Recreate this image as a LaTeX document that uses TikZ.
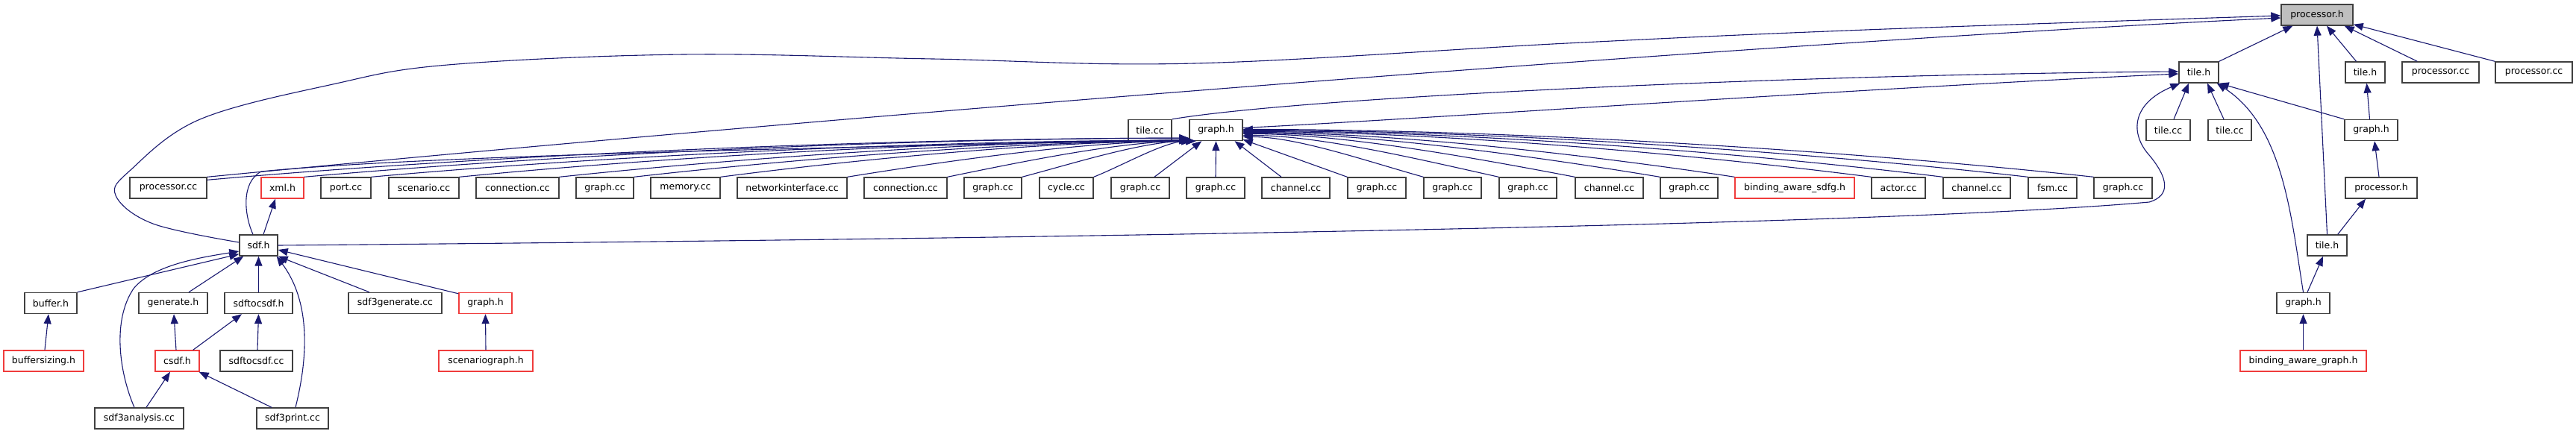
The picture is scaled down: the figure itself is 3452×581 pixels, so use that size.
\documentclass[tikz,border=0pt]{standalone}
\usepackage{fontspec}
\setmainfont{DejaVu Sans}
\usetikzlibrary{arrows.meta,calc}
\definecolor{edgecol}{HTML}{191970}
\definecolor{boxcol}{HTML}{404040}
\definecolor{redcol}{HTML}{F03C3C}
\definecolor{mainfill}{HTML}{BFBFBF}
\tikzset{
 box/.style={draw=boxcol, line width=1.4pt, fill=white, minimum height=28pt, inner sep=0pt, font=\fontsize{12.5}{15}\selectfont, text=black},
 redbox/.style={box, draw=redcol},
 mainbox/.style={box, fill=mainfill},
 edge/.style={draw=edgecol, line width=1.1pt, -{Triangle[length=13pt,width=10pt]}},
}
\newcommand\fanedge[3]{\draw[edge] (#1) .. controls ($(#1)!0.3!(#2)+(0,-#3)$) and ($(#2)!0.3!(#1 |- #2)$) .. (#2);}
\begin{document}
\begin{tikzpicture}[x=1pt,y=-1pt]
\useasboundingbox (0,0) rectangle (3452,581);
% row 0
\node[mainbox, minimum width=96pt] (ph0) at (3105,20) {processor.h};
% row 1
\node[box, minimum width=53pt] (th1a) at (2946.5,97) {tile.h};
\node[box, minimum width=53pt] (th1b) at (3169.5,97) {tile.h};
\node[box, minimum width=103pt] (pcc1a) at (3270.5,97) {processor.cc};
\node[box, minimum width=103pt] (pcc1b) at (3395.5,97) {processor.cc};
% row 2
\node[box, minimum width=58pt] (tcc2a) at (1541,174.5) {tile.cc};
\node[box, minimum width=71pt] (gh2a) at (1629.5,174.5) {graph.h};
\node[box, minimum width=59pt] (tcc2b) at (2905.5,174.5) {tile.cc};
\node[box, minimum width=58pt] (tcc2c) at (2988,174.5) {tile.cc};
\node[box, minimum width=71pt] (gh2b) at (3177.5,174.5) {graph.h};
% row 3
\node[box, minimum width=103pt] (b1) at (225.5,252) {processor.cc};
\node[redbox, minimum width=57pt] (b2) at (378.5,252) {xml.h};
\node[box, minimum width=67pt] (b3) at (463.5,252) {port.cc};
\node[box, minimum width=94pt] (b4) at (568,252) {scenario.cc};
\node[box, minimum width=111pt] (b5) at (693.5,252) {connection.cc};
\node[box, minimum width=77pt] (b6) at (810.5,252) {graph.cc};
\node[box, minimum width=93pt] (b7) at (918.5,252) {memory.cc};
\node[box, minimum width=147pt] (b8) at (1061.5,252) {networkinterface.cc};
\node[box, minimum width=111pt] (b9) at (1213.5,252) {connection.cc};
\node[box, minimum width=77pt] (b10) at (1330.5,252) {graph.cc};
\node[box, minimum width=72pt] (b11) at (1429,252) {cycle.cc};
\node[box, minimum width=78pt] (b12) at (1528,252) {graph.cc};
\node[box, minimum width=78pt] (b13) at (1629,252) {graph.cc};
\node[box, minimum width=91pt] (b14) at (1736.5,252) {channel.cc};
\node[box, minimum width=78pt] (b15) at (1845,252) {graph.cc};
\node[box, minimum width=77pt] (b16) at (1946.5,252) {graph.cc};
\node[box, minimum width=77pt] (b17) at (2047.5,252) {graph.cc};
\node[box, minimum width=91pt] (b18) at (2156.5,252) {channel.cc};
\node[box, minimum width=77pt] (b19) at (2263.5,252) {graph.cc};
\node[redbox, minimum width=160pt] (b20) at (2405,252) {binding\_aware\_sdfg.h};
\node[box, minimum width=72pt] (b21) at (2544,252) {actor.cc};
\node[box, minimum width=90pt] (b22) at (2649,252) {channel.cc};
\node[box, minimum width=65pt] (b23) at (2750.5,252) {fsm.cc};
\node[box, minimum width=78pt] (b24) at (2845,252) {graph.cc};
\node[box, minimum width=96pt] (ph3) at (3191,252) {processor.h};
% row 4
\node[box, minimum width=51pt] (sdfh) at (346.5,329) {sdf.h};
\node[box, minimum width=53pt] (th4) at (3118.5,329) {tile.h};
% row 5
\node[box, minimum width=70pt] (bufh) at (68,406.5) {buffer.h};
\node[box, minimum width=92pt] (genh) at (232,406.5) {generate.h};
\node[box, minimum width=91pt] (s2ch) at (346.5,406.5) {sdftocsdf.h};
\node[box, minimum width=125pt] (s3gen) at (529.5,406.5) {sdf3generate.cc};
\node[redbox, minimum width=71pt] (ghred) at (650.5,406.5) {graph.h};
\node[box, minimum width=71pt] (gh5) at (3086.5,406.5) {graph.h};
% row 6
\node[redbox, minimum width=107pt] (bsz) at (58.5,484) {buffersizing.h};
\node[redbox, minimum width=59pt] (csdf) at (237.5,484) {csdf.h};
\node[box, minimum width=97pt] (s2ccc) at (343.5,484) {sdftocsdf.cc};
\node[redbox, minimum width=126pt] (scg) at (651,484) {scenariograph.h};
\node[redbox, minimum width=169pt] (bag) at (3086.5,484) {binding\_aware\_graph.h};
% row 7
\node[box, minimum width=119pt] (s3an) at (186.5,561) {sdf3analysis.cc};
\node[box, minimum width=96pt] (s3pr) at (392,561) {sdf3print.cc};

% named attach points
\coordinate (ph0L1) at ($(ph0.west)+(0,1)$);
\coordinate (ph0L2) at ($(ph0.west)+(0,4)$);
\coordinate (sdfL) at ($(sdfh.west)+(0,-4)$);
\coordinate (b1s) at ($(b1.north east)+(0,4)$);
\coordinate (th1aL1) at ($(th1a.west)+(0,-1)$);
\coordinate (th1aL2) at ($(th1a.west)+(0,2)$);
\coordinate (gh2aR) at ($(gh2a.east)+(0,-3)$);
\coordinate (eA) at ($(gh2a.south west)+(0,-4)$);
\coordinate (eB) at ($(gh2a.south west)+(0,-1)$);
\coordinate (eC) at ($(gh2a.south west)+(3,0)$);
\coordinate (eD) at ($(gh2a.south west)+(9,0)$);
\coordinate (r16) at ($(gh2a.east)+(0,9)$);
\coordinate (r17) at ($(gh2a.east)+(0,7)$);
\coordinate (r18) at ($(gh2a.east)+(0,5)$);
\coordinate (r19) at ($(gh2a.east)+(0,4)$);
\coordinate (r20) at ($(gh2a.east)+(0,3)$);
\coordinate (r21) at ($(gh2a.east)+(0,2)$);
\coordinate (r22) at ($(gh2a.east)+(0,1)$);
\coordinate (r23) at ($(gh2a.east)+(0,0)$);
\coordinate (r24) at ($(gh2a.east)+(0,-1)$);

% into processor.h (top)
\draw[edge] (th1a.north east) -- ($(ph0.south west)+(16,0)$);
\draw[edge] ($(th1b.north)+(-12,0)$) -- ($(ph0.south)+(13,0)$);
\draw[edge] ($(pcc1a.north west)+(21,0)$) -- ($(ph0.south east)+(-12,0)$);
\draw[edge] (pcc1b.north west) -- ($(ph0.south east)+(0,-2)$);
\draw[edge] (th4.north) -- (ph0.south);
\draw[edge] plot[smooth,tension=0.6] coordinates {(sdfL) (205,300) (155,262) (175,228) (268,160) (446,113) (600,87) (916,73) (1250,79) (1600,85) (2100,58) (2500,40) (ph0L1)};
\draw[edge] (b1.north east) .. controls (1200,148) and (2400,55) .. (ph0L2);

% into tile.h (row 1, left)
\draw[edge] (tcc2a.north east) .. controls (1750,130) and (2400,100) .. (th1aL1);
\draw[edge] (gh2aR) .. controls (1900,160) and (2500,118) .. (th1aL2);
\draw[edge] ($(tcc2b.north)+(7.5,0)$) -- ($(th1a.south)+(-13.5,0)$);
\draw[edge] ($(tcc2c.north)+(-8,0)$) -- ($(th1a.south)+(11.5,0)$);
\draw[edge] (gh2b.north west) -- (th1a.south east);
\draw[edge] (gh5.north) .. controls (3070,290) and (3060,170) .. ($(th1a.south east)+(-3,0)$);
\draw[edge] (sdfh.east) .. controls (1200,322) and (2500,305) .. (2880,271) .. controls (2910,262) and (2905,238) .. (2880,208) .. controls (2855,180) and (2855,140) .. ($(th1a.south west)+(2,0)$);

% right column
\draw[edge] ($(gh2b.north)+(-2,0)$) -- ($(th1b.south)+(2,0)$);
\draw[edge] ($(ph3.north)+(-3,0)$) -- ($(gh2b.south)+(4.5,0)$);
\draw[edge] ($(th4.north east)+(-13,0)$) -- ($(ph3.south)+(-21,0)$);
\draw[edge] ($(gh5.north)+(5.5,0)$) -- ($(th4.south)+(-5.5,0)$);
\draw[edge] (bag.north) -- (gh5.south);

% into sdf.h
\draw[edge] (bufh.north east) -- ($(sdfh.south west)+(0,-3)$);
\draw[edge] ($(genh.north)+(21,0)$) -- ($(sdfh.south west)+(6,0)$);
\draw[edge] (s2ch.north) -- (sdfh.south);
\draw[edge] ($(s3gen.north)+(-34.5,0)$) -- (sdfh.south east);
\draw[edge] ($(ghred.north west)+(0,2)$) -- ($(sdfh.east)+(0,6)$);
\draw[edge] ($(s3an.north)+(-6.5,0)$) .. controls (160,500) and (150,430) .. (179,387) .. controls (205,355) and (270,345) .. ($(sdfh.west)+(0,8)$);
\draw[edge] ($(s3pr.north)+(4,0)$) .. controls (410,490) and (420,410) .. ($(sdfh.south east)+(-2,0)$);

% from sdf.h upward
\draw[edge] ($(sdfh.north)+(6.5,0)$) -- ($(b2.south)+(-9.5,0)$);
\draw[edge] ($(sdfh.north)+(-7.5,0)$) .. controls (328,290) and (322,245) .. (350,230) .. controls (600,205) and (1300,195) .. ($(gh2a.south west)+(0,-2)$);

% rows 6 and 7
\draw[edge] ($(bsz.north)+(1.5,0)$) -- ($(bufh.south)+(-3,0)$);
\draw[edge] ($(csdf.north)+(-1.5,0)$) -- ($(genh.south)+(1,0)$);
\draw[edge] ($(csdf.north east)+(-9,0)$) -- ($(s2ch.south)+(-22.5,0)$);
\draw[edge] ($(s2ccc.north)+(1.5,0)$) -- (s2ch.south);
\draw[edge] (scg.north) -- (ghred.south);
\draw[edge] ($(s3an.north)+(9.5,0)$) -- ($(csdf.south)+(-9.5,0)$);
\draw[edge] ($(s3pr.north)+(-28,0)$) -- ($(csdf.south east)+(-1,0)$);

% fan into graph.h (row 2)
\fanedge{b1s}{eA}{18}
\fanedge{b2.north east}{eA}{16}
\fanedge{b3.north east}{eB}{15}
\fanedge{b4.north east}{eB}{14}
\fanedge{b5.north east}{eB}{12}
\fanedge{b6.north east}{eC}{11}
\fanedge{b7.north east}{eC}{10}
\fanedge{b8.north east}{eC}{8}
\fanedge{b9.north east}{eD}{6}
\fanedge{b10.north east}{eD}{4}
\fanedge{b11.north east}{eD}{2}
\draw[edge] ($(b12.north)+(19,0)$) -- ($(gh2a.south west)+(17,0)$);
\draw[edge] (b13.north) -- (gh2a.south);
\draw[edge] ($(b14.north)+(-19.5,0)$) -- ($(gh2a.south)+(25,0)$);
\draw[edge] (b15.north west) -- ($(gh2a.south east)+(0,-2)$);
\fanedge{b16.north west}{r16}{4}
\fanedge{b17.north west}{r17}{6}
\fanedge{b18.north west}{r18}{8}
\fanedge{b19.north west}{r19}{10}
\fanedge{b20.north west}{r20}{12}
\fanedge{b21.north west}{r21}{14}
\fanedge{b22.north west}{r22}{16}
\fanedge{b23.north west}{r23}{17}
\fanedge{b24.north west}{r24}{18}
\end{tikzpicture}
\end{document}
